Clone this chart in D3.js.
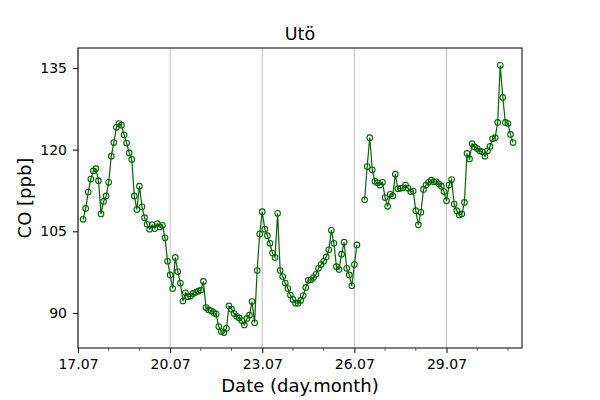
<!DOCTYPE html>
<html>
<head>
<meta charset="utf-8">
<script src="https://cdn.jsdelivr.net/npm/d3@7"></script>
<style>
  body { margin: 0; background: #fff; }
  text { font-family: "DejaVu Sans", sans-serif; fill: #000; }
</style>
</head>
<body>
<div id="chart"></div>
<script>
// figure size and plot box (matplotlib-like layout)
const width = 600;
const height = 400;
const margin = {top: 48, right: 78, bottom: 52, left: 78};

// CO readings every 2 hours, starting 17.07 04:00 (null = missing)
const startTime = new Date(2021, 6, 17, 4);
const stepHours = 2;
const coValues = [
  107.2, 109.2, 112.2, 114.6, 116.1, 116.5, 114.3, 108.2, 110.5, 111.5,
  114.0, 118.8, 121.3, 124.1, 124.8, 124.5, 122.7, 121.2, 119.4, 118.2,
  111.5, 109.0, 113.3, 109.5, 107.5, 106.3, 105.4, 106.2, 105.5, 106.4,
  105.8, 106.1, 103.8, 99.5, 97.0, 94.5, 100.2, 97.6, 95.5, 92.2,
  93.7, 93.0, 93.1, 93.6, 93.8, 94.0, 94.2, 95.8, 91.0, 90.6,
  90.4, 90.1, 89.8, 87.5, 86.6, 86.4, 87.2, 91.3, 90.7, 89.9,
  89.4, 89.1, 88.6, 87.8, 89.0, 89.6, 92.1, 88.2, 97.8, 104.5,
  108.6, 105.4, 104.2, 102.8, 101.0, 100.2, 108.3, 97.8, 96.7, 95.5,
  94.5, 93.3, 92.5, 91.8, 91.8, 92.3, 93.2, 94.7, 96.0, 96.1,
  96.5, 97.1, 98.2, 98.9, 99.5, 100.3, 101.6, 105.2, 102.8, 98.5,
  98.0, 100.8, 103.0, 98.2, 97.0, 95.0, 98.9, 102.5, null, null,
  110.8, 116.9, 122.2, 116.3, 114.2, 113.9, 113.5, 114.0, 111.2, 109.6,
  111.8, 111.5, 115.5, 112.8, 112.9, 113.0, 113.5, 112.9, 112.3, 112.4,
  108.8, 106.2, 108.5, 112.7, 113.5, 114.0, 114.4, 114.1, 114.1, 113.7,
  113.3, 112.3, 110.6, 113.5, 114.5, 110.0, 108.8, 108.0, 108.2, 110.3,
  119.3, 118.3, 121.1, 120.5, 120.2, 119.8, 119.6, 118.8, 119.8, 120.6,
  122.0, 122.2, 125.0, 135.5, 129.6, 125.0, 124.8, 122.8, 121.3
];

// axis ticks
const xTickDays = [17, 20, 23, 26, 29];
const xMinorDays = [18, 19, 21, 22, 24, 25, 27, 28, 30, 31];
const yTicks = [90, 105, 120, 135];

const titleText = "Utö";
const xLabel = "Date (day.month)";
const yLabel = "CO [ppb]";

const data = coValues.map(function(v, i) {
  return {date: d3.timeHour.offset(startTime, i * stepHours), value: v};
});

const svg = d3.select("#chart")
    .append("svg")
    .attr("width", width)
    .attr("height", height);

const x = d3.scaleTime()
    .domain([new Date(2021, 6, 17, 0), d3.timeHour.offset(new Date(2021, 6, 17, 0), 347.5)])
    .range([margin.left, width - margin.right]);

const y = d3.scaleLinear()
    .domain([83.57, 138.67])
    .range([height - margin.bottom, margin.top]);

const majorDates = xTickDays.map(function(d) { return new Date(2021, 6, d); });
const minorDates = xMinorDays.map(function(d) { return new Date(2021, 6, d); });

// vertical grid at major ticks
svg.append("g")
   .selectAll("line")
   .data(majorDates)
   .join("line")
    .attr("x1", function(d) { return x(d); })
    .attr("x2", function(d) { return x(d); })
    .attr("y1", margin.top)
    .attr("y2", height - margin.bottom)
    .style("stroke", "#b0b0b0")
    .style("stroke-width", 0.8);

// x axis, major + minor ticks
const xAxis = svg.append("g")
    .attr("transform", `translate(0,${height - margin.bottom})`)
    .call(d3.axisBottom(x)
        .tickValues(majorDates)
        .tickFormat(d3.timeFormat("%d.%m"))
        .tickSize(5)
        .tickPadding(6));
xAxis.select(".domain").remove();
xAxis.selectAll("text").style("font-size", "14px").style("font-family", "DejaVu Sans");

svg.append("g")
   .attr("transform", `translate(0,${height - margin.bottom})`)
   .selectAll("line")
   .data(minorDates)
   .join("line")
    .attr("x1", function(d) { return x(d); })
    .attr("x2", function(d) { return x(d); })
    .attr("y1", 0)
    .attr("y2", 3)
    .style("stroke", "#000")
    .style("stroke-width", 0.6);

// y axis
const yAxis = svg.append("g")
    .attr("transform", `translate(${margin.left},0)`)
    .call(d3.axisLeft(y)
        .tickValues(yTicks)
        .tickSize(5)
        .tickPadding(6));
yAxis.select(".domain").remove();
yAxis.selectAll("text").style("font-size", "14px").style("font-family", "DejaVu Sans");

// the line, broken where data is missing
const line = d3.line()
    .defined(function(d) { return d.value !== null; })
    .x(function(d) { return x(d.date); })
    .y(function(d) { return y(d.value); });

svg.append("path")
   .datum(data)
   .attr("d", line)
   .style("fill", "none")
   .style("stroke", "darkgreen")
   .style("stroke-width", 1.2);

// open circle markers
svg.append("g")
   .selectAll("circle")
   .data(data.filter(function(d) { return d.value !== null; }))
   .join("circle")
    .attr("cx", function(d) { return x(d.date); })
    .attr("cy", function(d) { return y(d.value); })
    .attr("r", 2.8)
    .style("fill", "none")
    .style("stroke", "darkgreen")
    .style("stroke-width", 1.1);

// frame
svg.append("rect")
   .attr("x", margin.left)
   .attr("y", margin.top)
   .attr("width", width - margin.left - margin.right)
   .attr("height", height - margin.top - margin.bottom)
   .style("fill", "none")
   .style("stroke", "#000")
   .style("stroke-width", 1);

// title and axis labels
svg.append("text")
   .attr("x", (margin.left + width - margin.right) / 2)
   .attr("y", 40)
   .attr("text-anchor", "middle")
   .style("font-size", "17.5px")
   .text(titleText);

svg.append("text")
   .attr("x", (margin.left + width - margin.right) / 2)
   .attr("y", 392)
   .attr("text-anchor", "middle")
   .style("font-size", "18px")
   .text(xLabel);

svg.append("text")
   .attr("transform", `translate(31,${(margin.top + height - margin.bottom) / 2}) rotate(-90)`)
   .attr("text-anchor", "middle")
   .style("font-size", "18px")
   .text(yLabel);
</script>
</body>
</html>
